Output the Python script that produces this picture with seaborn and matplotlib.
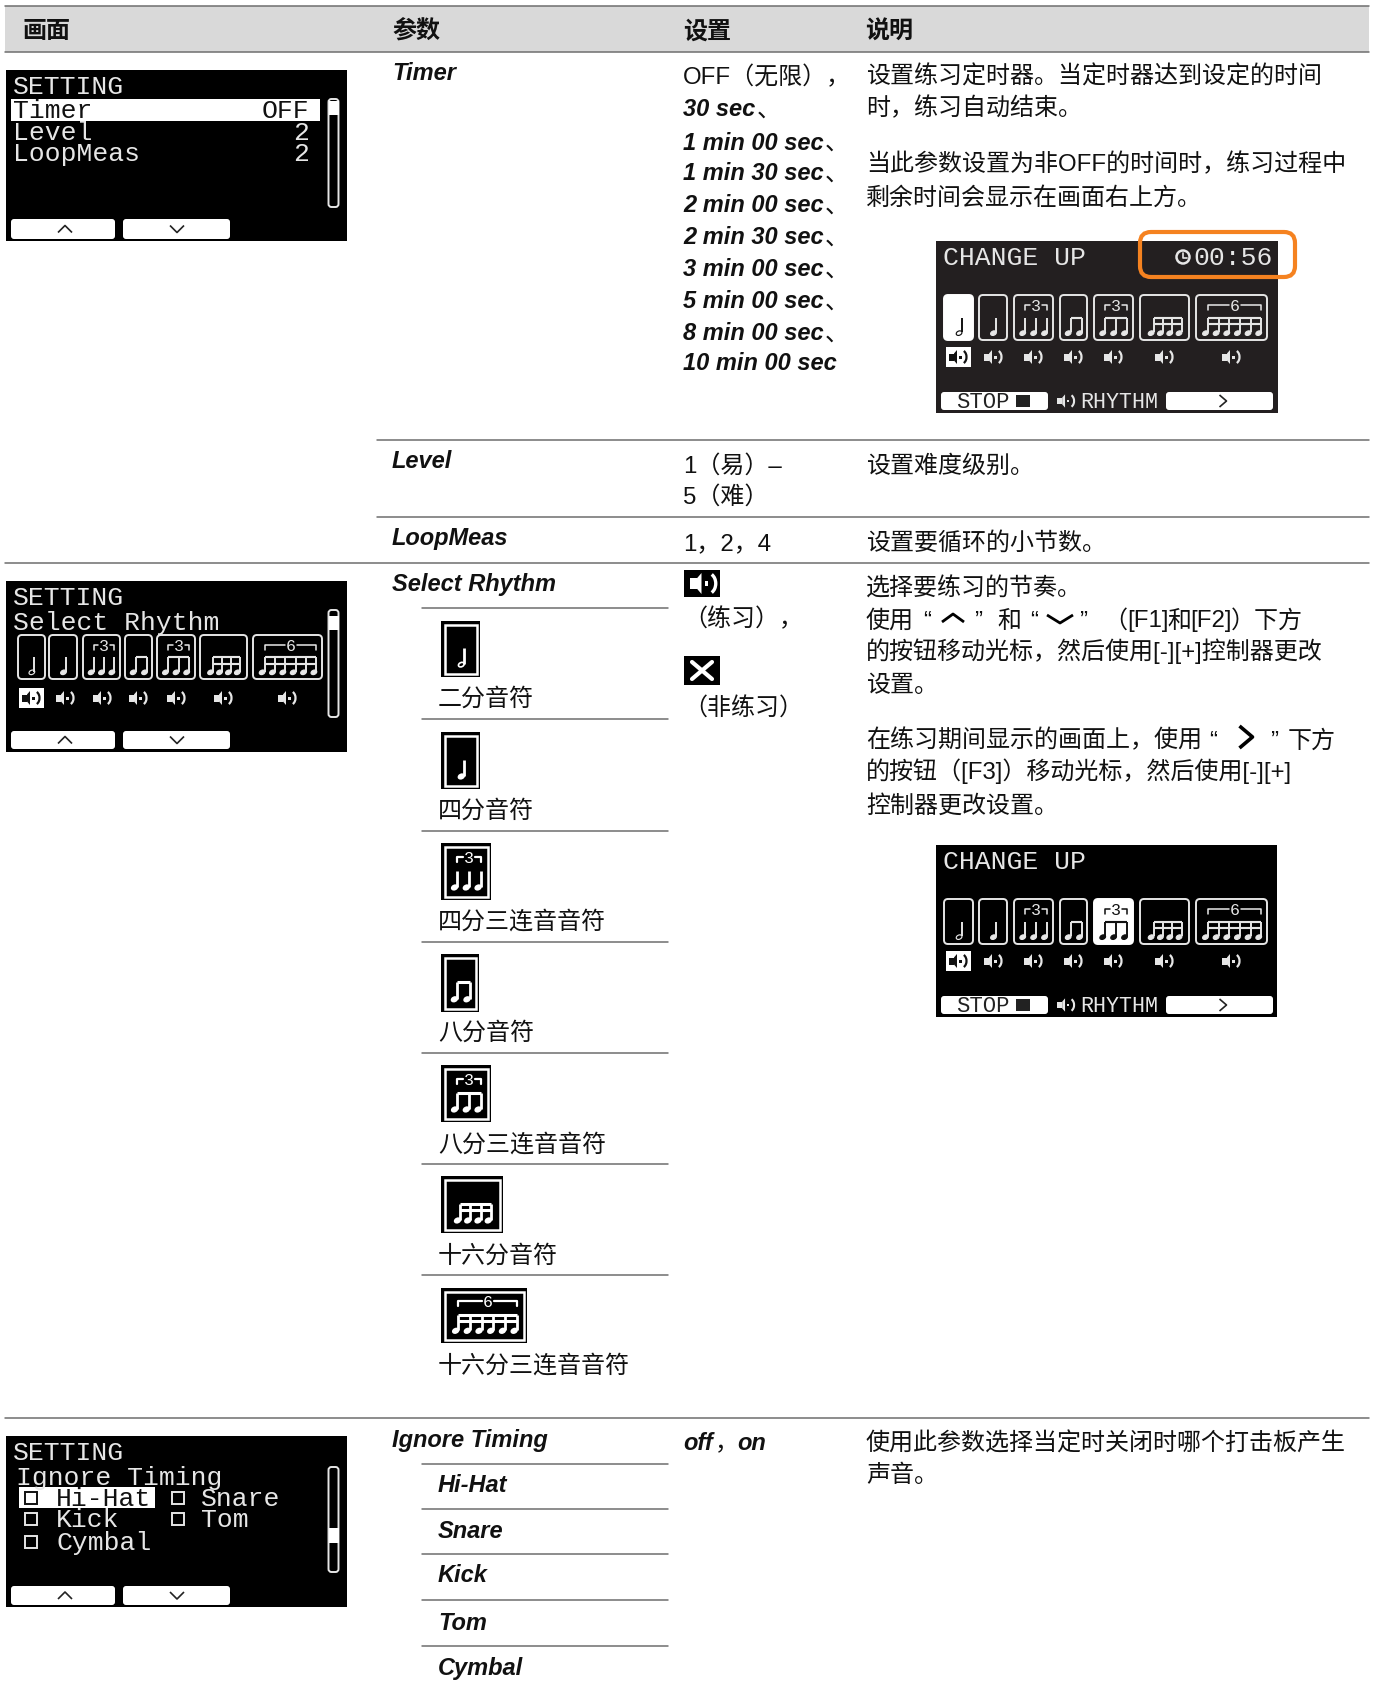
import numpy as np
import pandas as pd
import matplotlib
matplotlib.use("Agg")
import matplotlib.pyplot as plt
from matplotlib.patches import Rectangle, FancyBboxPatch, Ellipse, Arc, Polygon
import seaborn as sns

# table content
headers = ["画面", "参数", "设置", "说明"]
timer_first = "OFF（无限），"
timer_values = ["30 sec", "1 min 00 sec", "1 min 30 sec", "2 min 00 sec", "2 min 30 sec",
                "3 min 00 sec", "5 min 00 sec", "8 min 00 sec", "10 min 00 sec"]
timer_desc = ["设置练习定时器。当定时器达到设定的时间", "时，练习自动结束。",
              "当此参数设置为非OFF的时间时，练习过程中", "剩余时间会显示在画面右上方。"]
level_values = ["1（易）–", "5（难）"]
level_desc = "设置难度级别。"
loop_values = "1，2，4"
loop_desc = "设置要循环的小节数。"
note_names = ["二分音符", "四分音符", "四分三连音音符", "八分音符", "八分三连音音符", "十六分音符", "十六分三连音音符"]
ignore_params = ["Hi-Hat", "Snare", "Kick", "Tom", "Cymbal"]
ignore_desc = ["使用此参数选择当定时关闭时哪个打击板产生", "声音。"]

# note count, beam count, tuplet label, hollow head
rhythm_kinds = [(1, 0, None, True), (1, 0, None, False), (3, 0, "3", False), (2, 1, None, False),
                (3, 1, "3", False), (4, 2, None, False), (6, 2, "6", False)]

INK = "#111111"
RULE = "#6e6e6e"
LCD = "#e6e6e6"
FILL = "white"
BODY_SIZE = 17.3
BODY_FONT = ["Liberation Sans", "Noto Sans CJK SC"]
LCD_FONT = "Liberation Mono"

sns.set_theme(style="white")
plt.rcParams["font.family"] = BODY_FONT

fig = plt.figure(figsize=(13.74, 16.84), dpi=100)
ax = fig.add_axes([0, 0, 1, 1])

# horizontal rules of the table
rule_spans = [(5, 1369, 6), (5, 1369, 52), (377, 1369, 440), (377, 1369, 517), (5, 1369, 563), (5, 1369, 1418),
              (422, 668, 608), (422, 668, 719), (422, 668, 831), (422, 668, 942),
              (422, 668, 1053), (422, 668, 1164), (422, 668, 1275),
              (422, 668, 1464), (422, 668, 1509), (422, 668, 1554), (422, 668, 1600), (422, 668, 1646)]
rules = pd.DataFrame(
    [{"rule": i, "x": x, "y": y} for i, (a, b, y) in enumerate(rule_spans) for x in (a, b)]
)
ax.add_patch(Rectangle((5, 6), 1364, 46, fc="#d9d9d9", ec="none", zorder=0))
sns.lineplot(data=rules, x="x", y="y", units="rule", estimator=None, sort=False,
             color=RULE, lw=1.1, ax=ax, zorder=1)


def txt(x, y, s, size=BODY_SIZE, **kw):
    kw.setdefault("color", INK)
    kw.setdefault("family", BODY_FONT)
    return ax.text(x, y + 8.5, s, fontsize=size, va="baseline", ha=kw.pop("ha", "left"), **kw)


def param(x, y, s):
    return txt(x, y, s, size=17, style="italic", weight="bold")


def lcd_txt(x, y, s, color=LCD, size=19, ha="left"):
    ax.text(x, y + 0.42 * size, s, family=LCD_FONT, fontsize=size, color=color, va="baseline", ha=ha)


def rounded(x0, y0, x1, y1, fc="none", ec="none", lw=1.0, r=3):
    ax.add_patch(FancyBboxPatch((x0, y0), x1 - x0, y1 - y0, boxstyle=f"round,pad=0,rounding_size={r}",
                                fc=fc, ec=ec, lw=lw))


def chevron(cx, cy, w, h, way, color="black", lw=1.5):
    if way == "up":
        xs, ys = [cx - w / 2, cx, cx + w / 2], [cy + h / 2, cy - h / 2, cy + h / 2]
    elif way == "down":
        xs, ys = [cx - w / 2, cx, cx + w / 2], [cy - h / 2, cy + h / 2, cy - h / 2]
    else:
        xs, ys = [cx - w / 2, cx + w / 2, cx - w / 2], [cy - h / 2, cy, cy + h / 2]
    ax.plot(xs, ys, color=color, lw=lw, solid_capstyle="butt")


def speaker(cx, cy, color=LCD, k=1.0):
    ax.add_patch(Rectangle((cx - 9 * k, cy - 3.5 * k), 5 * k, 7 * k, fc=color, ec="none"))
    ax.add_patch(Polygon([(cx - 4 * k, cy - 3.5 * k), (cx - 1 * k, cy - 7 * k), (cx - 1 * k, cy + 7 * k),
                          (cx - 4 * k, cy + 3.5 * k)], fc=color, ec="none"))
    ax.add_patch(Rectangle((cx + 1 * k, cy - 1.5 * k), 2.5 * k, 3 * k, fc=color, ec="none"))
    ax.add_patch(Arc((cx + 3 * k, cy), 11 * k, 14 * k, theta1=-65, theta2=65, color=color, lw=1.6 * k))


# where the stems start and end inside a rhythm box, by note count
STEM_SPAN = {1: (0.61, 0.61), 2: (0.4, 0.82), 3: (0.29, 0.85), 4: (0.28, 0.85), 6: (0.17, 0.92)}


def notes(x0, y0, x1, y1, kind, color=LCD, lw=1.4, k=1.0):
    n, beams, tup, hollow = kind
    w, h = x1 - x0, y1 - y0
    head_y = y0 + 0.83 * h
    a, b = STEM_SPAN[n]
    xs = np.linspace(x0 + a * w, x0 + b * w, n)
    top = y0 + 0.5 * h
    for sx in xs:
        ax.plot([sx, sx], [top, head_y], color=color, lw=lw, solid_capstyle="butt")
        ax.add_patch(Ellipse((sx - 2.6 * k, head_y + 0.8 * k), 6 * k, 4.2 * k, angle=-25,
                             fc="none" if hollow else color, ec=color, lw=lw * 0.6))
    for i in range(beams):
        by = top + i * 6.5 * k
        ax.plot([xs[0], xs[-1]], [by, by], color=color, lw=lw * 1.1, solid_capstyle="butt")
    if tup:
        ly = y0 + 0.22 * h
        mid = (xs[0] + xs[-1]) / 2
        ax.text(mid, ly + 6 * k, tup, family=LCD_FONT, fontsize=12 * k, color=color, ha="center", va="baseline")
        gap = 6 * k
        ax.plot([xs[0], xs[0], mid - gap], [ly + 5, ly, ly], color=color, lw=lw * 0.8)
        ax.plot([mid + gap, xs[-1], xs[-1]], [ly, ly, ly + 5], color=color, lw=lw * 0.8)


def rhythm_row(sx, sy, boxes, speakers, y0, y1, spk_y, selected=None):
    for i, ((a, b), kind) in enumerate(zip(boxes, rhythm_kinds)):
        if i == selected:
            rounded(sx + a, sy + y0, sx + b, sy + y1, fc=FILL, ec=FILL, lw=1.4, r=4)
            notes(sx + a, sy + y0, sx + b, sy + y1, kind, color="#111111")
        else:
            rounded(sx + a, sy + y0, sx + b, sy + y1, ec=LCD, lw=1.4, r=4)
            notes(sx + a, sy + y0, sx + b, sy + y1, kind)
    for i, c in enumerate(speakers):
        if i == 0:
            ax.add_patch(Rectangle((sx + c - 12, sy + spk_y - 10), 25, 20, fc=FILL, ec="none"))
            speaker(sx + c, sy + spk_y, color="#111111")
        else:
            speaker(sx + c, sy + spk_y)


def screen(sx, sy, bg="black", w=341, h=171):
    ax.add_patch(Rectangle((sx, sy), w, h, fc=bg, ec="none"))


def scrollbar(sx, sy, y0, y1, thumb0, thumb1):
    rounded(sx + 322.5, sy + y0, sx + 332.5, sy + y1, ec=LCD, lw=1.4, r=3)
    ax.add_patch(Rectangle((sx + 322.5, sy + thumb0), 10, thumb1 - thumb0, fc=FILL, ec="none"))


def soft_keys(sx, sy, y0=149, y1=169):
    rounded(sx + 5, sy + y0, sx + 109, sy + y1, fc=FILL)
    rounded(sx + 117, sy + y0, sx + 224, sy + y1, fc=FILL)
    chevron(sx + 59, sy + (y0 + y1) / 2, 14, 7, "up", color="#222222", lw=1.2)
    chevron(sx + 171, sy + (y0 + y1) / 2, 14, 7, "down", color="#222222", lw=1.2)


def play_bar(sx, sy):
    rounded(sx + 5, sy + 151, sx + 112, sy + 169, fc=FILL)
    lcd_txt(sx + 47, sy + 160, "STOP", color="#222222", size=16, ha="center")
    ax.add_patch(Rectangle((sx + 80, sy + 154), 14, 12, fc="#222222", ec="none"))
    speaker(sx + 130, sy + 160, k=0.95)
    lcd_txt(sx + 144, sy + 160, "RHYTHM", size=15.6)
    rounded(sx + 230, sy + 151, sx + 337, sy + 169, fc=FILL)
    chevron(sx + 287, sy + 160, 7, 12, "right", color="#222222", lw=1.2)


# column headers
for x, h in zip([22, 392, 683, 865], headers):
    txt(x, 30, h, size=17.3, weight="bold", family="Noto Sans CJK SC")

# Timer row
param(392, 71, "Timer")
txt(683, 76, timer_first)
for y, v in zip([108, 141, 172, 204, 236, 268, 300, 332, 361], timer_values):
    t = param(683, y, v)
    if v != timer_values[-1]:
        fig.canvas.draw()
        box = t.get_window_extent()
        txt(box.x1 + 1, y, "、", family="Noto Sans CJK SC")
for y, s in zip([75, 107, 163, 196], timer_desc):
    txt(866, y, s)

# Level and LoopMeas rows
param(392, 459, "Level")
param(392, 536, "LoopMeas")
for y, s in zip([464, 495], level_values):
    txt(683, y, s)
txt(683, 542, loop_values)
txt(866, 464, level_desc)
txt(866, 541, loop_desc)

# Select Rhythm row
param(392, 582, "Select Rhythm")
ax.add_patch(Rectangle((684, 570), 36, 27, fc="black", ec="none"))
speaker(703, 583.5, color="white", k=1.5)
txt(683, 618, "（练习），")
ax.add_patch(Rectangle((684, 656), 36, 29, fc="black", ec="none"))
ax.plot([692, 712], [662, 679], color="white", lw=3)
ax.plot([692, 712], [679, 662], color="white", lw=3)
txt(683, 707, "（非练习）")

icon_boxes = [(441, 621, 480, 677), (441, 732, 480, 789), (441, 843, 491, 900), (441, 954, 479, 1012),
              (441, 1065, 491, 1122), (441, 1176, 503, 1233), (441, 1288, 527, 1343)]
label_ys = [697, 809, 920, 1031, 1143, 1254, 1364]
for (a, b, c, d), kind, name, ly in zip(icon_boxes, rhythm_kinds, note_names, label_ys):
    ax.add_patch(Rectangle((a, b), c - a, d - b, fc="black", ec="none"))
    ax.add_patch(Rectangle((a + 3.5, b + 3.5), c - a - 7, d - b - 7, fc="none", ec="white", lw=1.8))
    notes(a + 4, b + 3, c - 4, d - 5, kind, color="white", lw=2.0, k=1.0)
    txt(438, ly, name)

txt(866, 587, "选择要练习的节奏。")
txt(866, 619, "使用")
txt(923, 619, "“")
chevron(953, 618, 22, 8, "up", lw=2.0)
txt(974, 619, "”")
txt(997, 619, "和")
txt(1030, 619, "“")
chevron(1060, 619, 26, 8, "down", lw=2.0)
txt(1079, 619, "”")
txt(1103, 619, "（")
txt(1127, 619, "[F1]")
txt(1167, 619, "和")
txt(1190, 619, "[F2]")
txt(1231, 619, "）下方")
txt(866, 651, "的按钮移动光标，然后使用[-][+]控制器更改")
txt(866, 683, "设置。")
txt(866, 739, "在练习期间显示的画面上，使用")
txt(1209, 739, "“")
chevron(1246, 737, 13, 22, "right", lw=2.6)
txt(1270, 739, "”")
txt(1288, 739, "下方")
txt(866, 771, "的按钮（[F3]）移动光标，然后使用[-][+]")
txt(866, 804, "控制器更改设置。")

# Ignore Timing row
param(392, 1439, "Ignore Timing")
for y, s in zip([1484, 1529, 1574, 1621, 1666], ignore_params):
    param(438, y, s)
param(683, 1442, "off")
txt(715, 1442, "，")
param(737, 1442, "on")
for y, s in zip([1442, 1474], ignore_desc):
    txt(866, y, s)

# screen 1
sx, sy = 6, 70
screen(sx, sy)
lcd_txt(sx + 7, sy + 16, "SETTING")
ax.add_patch(Rectangle((sx + 5, sy + 29), 309, 22, fc=FILL, ec="none"))
lcd_txt(sx + 7, sy + 40, "Timer", color="#111111")
lcd_txt(sx + 303, sy + 40, "OFF", color="#111111", ha="right")
lcd_txt(sx + 7, sy + 62, "Level")
lcd_txt(sx + 303, sy + 62, "2", ha="right")
lcd_txt(sx + 7, sy + 83, "LoopMeas")
lcd_txt(sx + 303, sy + 83, "2", ha="right")
scrollbar(sx, sy, 29, 137, 31, 45)
soft_keys(sx, sy)

# screen 2
sx, sy = 6, 581
screen(sx, sy)
lcd_txt(sx + 7, sy + 16, "SETTING")
lcd_txt(sx + 7, sy + 41, "Select Rhythm")
rhythm_row(sx, sy, [(12, 39), (43, 71), (77, 114), (119, 146), (151, 189), (194, 241), (247, 316)],
           [25, 59, 96, 132, 170, 217, 281], 54, 98, 117)
scrollbar(sx, sy, 29, 136, 35, 49)
soft_keys(sx, sy, 150, 168)

# screen 3
sx, sy = 6, 1436
screen(sx, sy)
lcd_txt(sx + 7, sy + 16, "SETTING")
lcd_txt(sx + 10, sy + 41, "Ignore Timing")
ax.add_patch(Rectangle((sx + 13, sy + 51), 136, 21, fc=FILL, ec="none"))
for cx, cy, name, col in [(25, 62, "Hi-Hat", "#111111"), (172, 62, "Snare", LCD), (25, 83, "Kick", LCD),
                          (172, 83, "Tom", LCD), (25, 106, "Cymbal", LCD)]:
    ax.add_patch(Rectangle((sx + cx - 6, sy + cy - 6), 12, 12, fc="none", ec=col, lw=1.4))
    lcd_txt(sx + cx + 25 - (2 if cx == 172 else 0), sy + cy, name, color=col)
scrollbar(sx, sy, 31, 136, 92, 107)
soft_keys(sx, sy, 150, 169)

# inset with the timer
inset_boxes = [(8, 37), (43, 71), (78, 117), (124, 151), (158, 197), (204, 253), (260, 331)]
inset_spk = [22, 57, 97, 137, 177, 228, 295]
sx, sy = 936, 241
screen(sx, sy, bg="#231f20", w=342, h=172)
lcd_txt(sx + 7, sy + 16, "CHANGE UP")
lcd_txt(sx + 337, sy + 16, "00:56", ha="right")
ax.add_patch(Ellipse((sx + 247, sy + 16), 13, 13, fc="none", ec=LCD, lw=1.8))
ax.plot([sx + 247, sx + 247, sx + 251], [sy + 12, sy + 17, sy + 17], color=LCD, lw=1.2)
rhythm_row(sx, sy, inset_boxes, inset_spk, 54, 99, 116, selected=0)
play_bar(sx, sy)
rounded(1140, 232, 1295, 277, ec="#f58220", lw=3.0, r=11)

# inset with the cursor on the triplet
sx, sy = 936, 845
screen(sx, sy, w=341, h=172)
lcd_txt(sx + 7, sy + 16, "CHANGE UP")
rhythm_row(sx, sy, inset_boxes, inset_spk, 54, 99, 116, selected=4)
play_bar(sx, sy)

ax.set_xlim(0, 1374)
ax.set_ylim(1684, 0)
ax.set_xlabel("")
ax.set_ylabel("")
ax.axis("off")
sns.despine(ax=ax, left=True, bottom=True)

fig.savefig("out.png", dpi=100, facecolor="white")
